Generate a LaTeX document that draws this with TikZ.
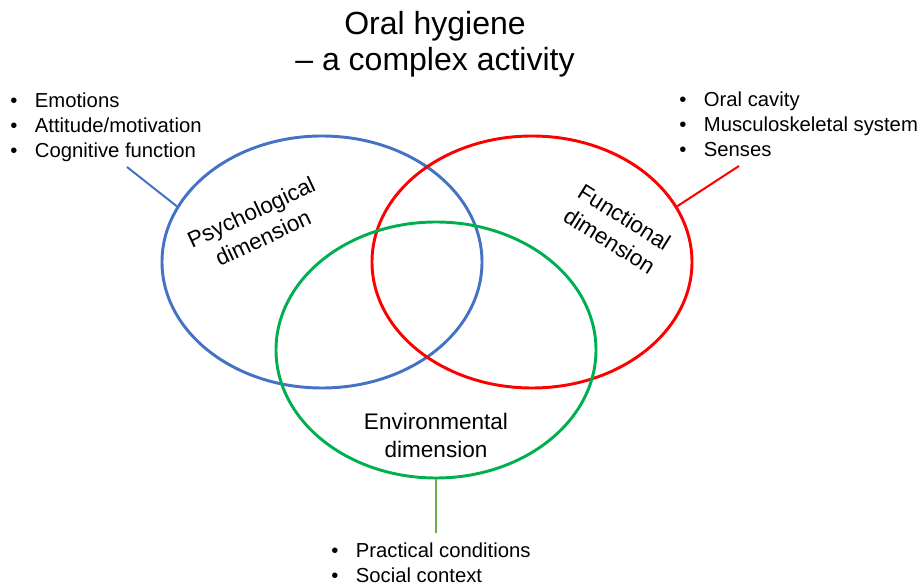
\documentclass[tikz,border=0pt]{standalone}
\usepackage{fontspec}
\setmainfont{Liberation Sans}
\usepackage{tikz}
\usetikzlibrary{shapes.geometric}

\definecolor{psyblue}{HTML}{4472C4}
\definecolor{funred}{HTML}{FF0000}
\definecolor{envgreen}{HTML}{00B050}
\definecolor{linegreen}{HTML}{70AD47}

\newcommand{\bitem}[1]{\makebox[18.5pt][l]{\textbullet}#1}

\tikzset{
    circ/.style={draw, ellipse, line width=2.2pt,
        minimum width=240pt, minimum height=189pt, inner sep=0pt},
    dimlabel/.style={align=center, inner sep=0pt,
        font=\fontsize{16.9}{21}\selectfont},
    blist/.style={align=left, anchor=north west, inner sep=0pt,
        font=\fontsize{15.2}{18.4}\selectfont},
    titletext/.style={font=\fontsize{24}{26}\selectfont, anchor=base},
    pointer/.style={line width=1.5pt}
}

\begin{document}
\begin{tikzpicture}[x=0.75pt, y=-0.75pt]

    \useasboundingbox (0,0) rectangle (922,584);

    % Title
    \node[titletext] (title1) at (435,35) {Oral hygiene};
    \node[titletext] (title2) at (435,71) {-- a complex activity};

    % Circles
    \node[circ, psyblue] (psych) at (322,262) {};
    \node[circ, funred] (func) at (532,262) {};
    \node[circ, envgreen, minimum height=192pt] (env) at (436,350) {};

    % Circle labels
    \node[dimlabel, rotate=25] (psychlabel) at (257,225)
        {Psychological\\dimension};
    \node[dimlabel, rotate=-32] (funclabel) at (617,229)
        {Functional\\dimension};
    \node[dimlabel] (envlabel) at (436,435)
        {Environmental\\dimension};

    % Lists
    \node[blist] (psychlist) at (10,93)
        {\bitem{Emotions}\\\bitem{Attitude/motivation}\\\bitem{Cognitive function}};
    \node[blist] (funclist) at (679,92)
        {\bitem{Oral cavity}\\\bitem{Musculoskeletal system}\\\bitem{Senses}};
    \node[blist] (envlist) at (331,543)
        {\bitem{Practical conditions}\\\bitem{Social context}};

    % Pointers
    \coordinate (psychend) at (127,167);
    \coordinate (funcend) at (739,166);
    \coordinate (envend) at (436,533);

    \draw[pointer, psyblue] (psych.159) -- (psychend);
    \draw[pointer, funred] (func.21) -- (funcend);
    \draw[pointer, linegreen] (env.south) -- (envend);

\end{tikzpicture}
\end{document}
